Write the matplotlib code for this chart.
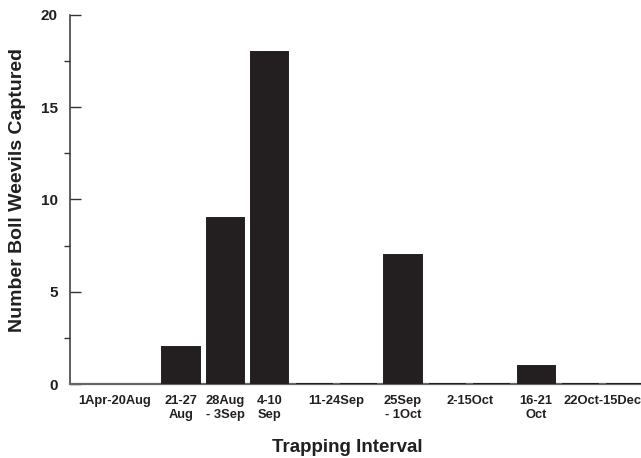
import numpy as np
import matplotlib
matplotlib.use("Agg")
import matplotlib.pyplot as plt
from matplotlib.ticker import MultipleLocator

plt.rcParams['font.family'] = ['Liberation Sans', 'DejaVu Sans']
plt.rcParams['font.weight'] = 'bold'

# Data
intervals = ['1Apr-20Aug', '21-27\nAug', '28Aug\n- 3Sep', '4-10\nSep', '11-24Sep',
             '25Sep\n- 1Oct', '2-15Oct', '16-21\nOct', '22Oct-15Dec']
slots_per_interval = [2, 1, 1, 1, 2, 1, 2, 1, 2]
# weekly counts per bar slot (NaN = no bar drawn)
counts = [np.nan, np.nan, 2, 9, 18, 0, 0, 7, 0, 0, 1, 0, 0]

ink = '#231f20'

fig = plt.figure(figsize=(6.41, 4.58), dpi=100)
ax = fig.add_axes([70/641, 1-384/458, 571/641, (384-15)/458])

x = np.arange(1, len(counts) + 1)
vals = np.array(counts, dtype=float)
mask = ~np.isnan(vals)
ax.bar(x[mask], vals[mask], width=0.84, color=ink, edgecolor=ink, linewidth=1.4, zorder=3)

# group tick positions
edges = np.cumsum([0] + slots_per_interval)
centers = [(edges[i] + 1 + edges[i+1]) / 2 for i in range(len(intervals))]
ax.set_xticks(centers)
ax.set_xticklabels(intervals, fontsize=9.3, fontweight='bold', color=ink)
ax.tick_params(axis='x', length=0, pad=8)

ax.set_xlim(0.5, 0.5 + 571/44.4)
ax.set_ylim(0, 20)
ax.yaxis.set_major_locator(MultipleLocator(5))
ax.yaxis.set_minor_locator(MultipleLocator(2.5))
ax.tick_params(axis='y', which='major', direction='in', length=8, width=1.0,
               color='#333333', labelsize=11, pad=9, labelcolor=ink)
ax.tick_params(axis='y', which='minor', direction='out', length=4, width=1.0, color='#333333')
for lab in ax.get_yticklabels():
    lab.set_fontweight('bold')

for s in ['top', 'right']:
    ax.spines[s].set_visible(False)
ax.spines['left'].set_color('#333333')
ax.spines['left'].set_linewidth(1.1)
ax.spines['bottom'].set_color('#666666')
ax.spines['bottom'].set_linewidth(1.6)

fig.text(18/641, 1-190/458, 'Number Boll Weevils Captured', rotation=90,
         ha='center', va='center', fontsize=14, fontweight='bold', color=ink)
fig.text(347/641, 1-452/458, 'Trapping Interval', ha='center', va='baseline',
         fontsize=13.5, fontweight='bold', color=ink)

fig.savefig('out.png', dpi=100)
